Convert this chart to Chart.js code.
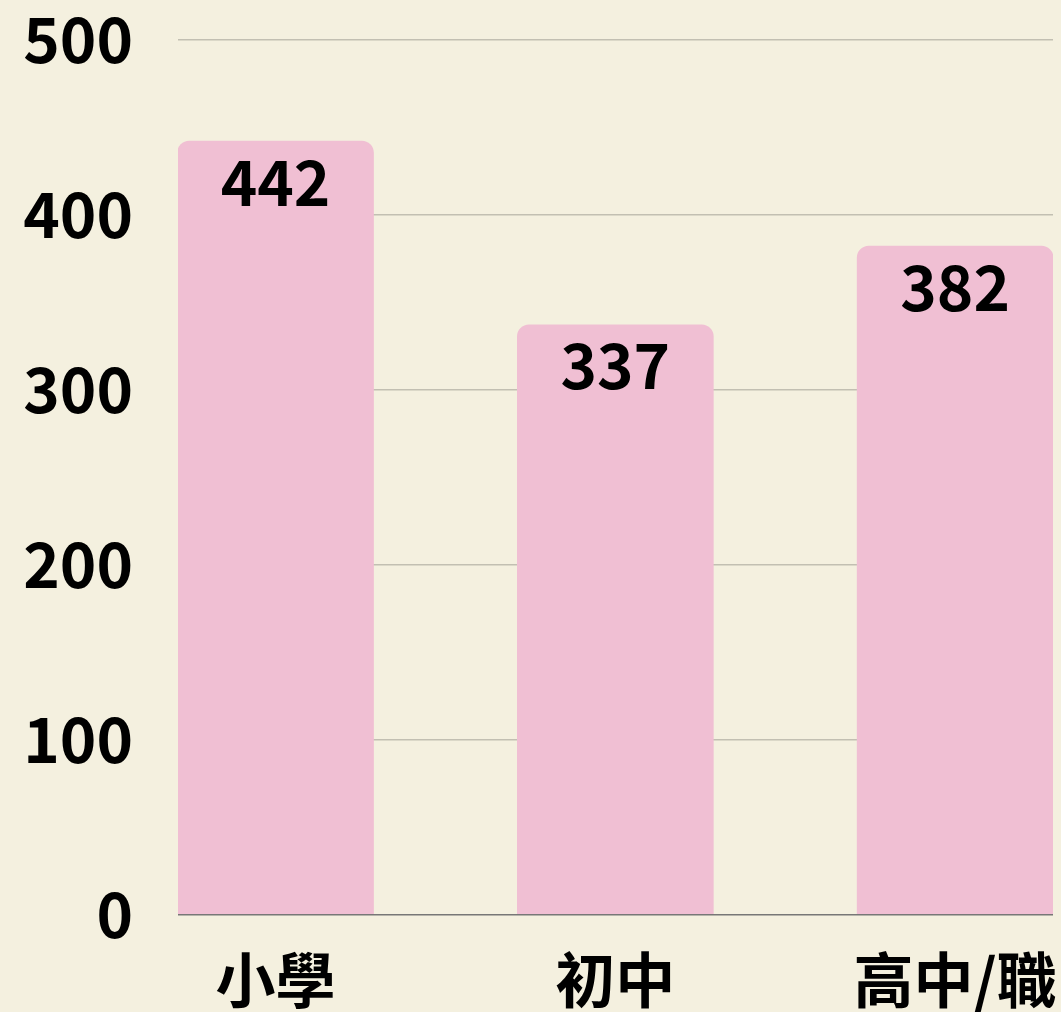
<!DOCTYPE html>
<html>
<head>
<meta charset="utf-8">
<script src="https://cdn.jsdelivr.net/npm/chart.js@4.4.1/dist/chart.umd.min.js"></script>
<style>
  html, body { margin: 0; padding: 0; background: #f4f0df; }
  #wrap { width: 1061px; height: 1012px; }
</style>
</head>
<body>
<div id="wrap"><canvas id="chart"></canvas></div>
<script>
// categories and values
const categories = ['小學', '初中', '高中/職'];
const counts = [442, 337, 382];
const yTicks = [0, 100, 200, 300, 400, 500];

const FONT = '"Noto Sans CJK TC", "Noto Sans", sans-serif';

// draw the value inside the top of each bar
const valueLabels = {
    id: 'valueLabels',
    afterDatasetsDraw(chart) {
        const ctx = chart.ctx;
        const meta = chart.getDatasetMeta(0);
        ctx.save();
        ctx.font = 'bold 62px ' + FONT;
        ctx.fillStyle = '#000';
        ctx.textAlign = 'center';
        ctx.textBaseline = 'middle';
        meta.data.forEach((bar, i) => {
            ctx.fillText(String(counts[i]), bar.x, bar.y + 41);
        });
        ctx.restore();
    }
};

new Chart(document.getElementById('chart'), {
    type: 'bar',
    data: {
        datasets: [{
            data: counts.map((v, i) => ({ x: i, y: v })),
            backgroundColor: '#f0bfd3',
            borderRadius: { topLeft: 12, topRight: 12 },
            borderSkipped: 'start',
            barThickness: 196
        }]
    },
    options: {
        responsive: true,
        maintainAspectRatio: false,
        animation: false,
        layout: { padding: { top: 39.5, right: 8, left: 0, bottom: 0 } },
        plugins: { legend: { display: false }, tooltip: { enabled: false } },
        scales: {
            x: {
                type: 'linear',
                offset: false,
                min: -0.287,
                max: 2.288,
                border: { display: false },
                grid: { display: false, drawTicks: false, offset: false },
                afterBuildTicks: s => { s.ticks = categories.map((c, i) => ({ value: i })); },
                afterFit: s => {
                    s.height = 97.5;
                    s.paddingLeft = 0;
                    s.paddingRight = 0;
                },
                ticks: {
                    padding: 30,
                    color: '#000',
                    font: { family: FONT, size: 60, weight: 'bold' },
                    callback: v => categories[v]
                }
            },
            y: {
                min: yTicks[0],
                max: yTicks[yTicks.length - 1],
                afterBuildTicks: s => { s.ticks = yTicks.map(v => ({ value: v })); },
                afterFit: s => {
                    s.width = 178;
                    s.paddingTop = 0;
                    s.paddingBottom = 0;
                },
                border: { display: false },
                grid: {
                    drawTicks: false,
                    lineWidth: 1.5,
                    color: c => c.tick && c.tick.value === 0 ? '#777777' : '#c2bfb2'
                },
                ticks: {
                    padding: 45,
                    color: '#000',
                    font: { family: FONT, size: 62, weight: 'bold' }
                }
            }
        }
    },
    plugins: [valueLabels]
});
</script>
</body>
</html>
